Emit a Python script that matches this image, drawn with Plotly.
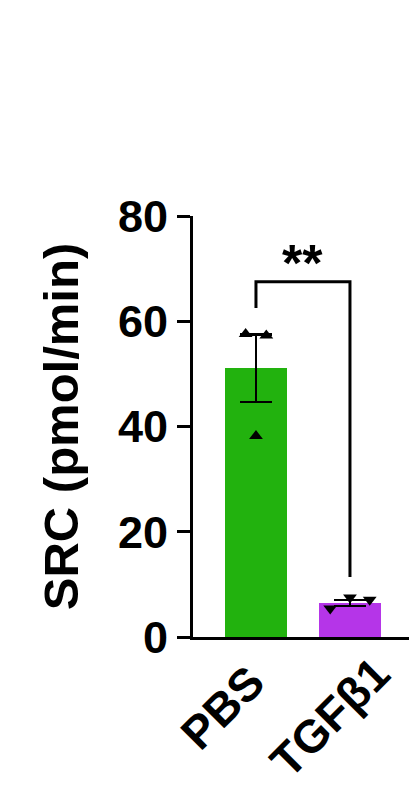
import plotly.graph_objects as go

# ---- data ----
categories = ["PBS", "TGFβ1"]
bar_means = [51.1, 6.5]
bar_sem = [6.4, 0.6]
pbs_points = [57.6, 57.3, 38.2]
tgf_points = [5.4, 7.5, 7.1]
point_jitter_pbs = [-0.11, 0.11, 0.0]
point_jitter_tgf = [-0.21, 0.0, 0.21]
y_ticks = [0, 20, 40, 60, 80]
sig_label = "**"
bracket_top = 67.5
bracket_left_end = 62.5
bracket_right_end = 11.4

# label offsets (px) of each rotated category label centre from its tick
label_xshift = [-33, -20]
label_yshift = [-70, -80]

bar_colors = ["#22B20E", "#B535E8"]
FONT = "Liberation Sans, Arial, sans-serif"

xpos = list(range(len(categories)))

fig = go.Figure()
fig.add_trace(go.Bar(
    x=xpos, y=bar_means, width=0.66,
    marker=dict(color=bar_colors, line=dict(width=0)),
    error_y=dict(type="data", array=bar_sem, visible=True,
                 color="black", thickness=2.2, width=16),
    showlegend=False,
))
fig.add_trace(go.Scatter(
    x=[xpos[0] + j for j in point_jitter_pbs], y=pbs_points,
    mode="markers",
    marker=dict(symbol="triangle-up", size=12, color="black"),
    showlegend=False,
))
fig.add_trace(go.Scatter(
    x=[xpos[1] + j for j in point_jitter_tgf], y=tgf_points,
    mode="markers",
    marker=dict(symbol="triangle-down", size=12, color="black"),
    showlegend=False,
))

# significance bracket
fig.add_shape(type="path",
              path=f"M {xpos[0]},{bracket_left_end} L {xpos[0]},{bracket_top} "
                   f"L {xpos[1]},{bracket_top} L {xpos[1]},{bracket_right_end}",
              xref="x", yref="y", line=dict(color="black", width=3))
fig.add_annotation(x=(xpos[0] + xpos[1]) / 2, y=bracket_top, text=sig_label,
                   showarrow=False, xref="x", yref="y", yanchor="bottom",
                   yshift=-12,
                   font=dict(family=FONT, size=52, color="black", weight="bold"))

# rotated category labels
for xi, lab, dx, dy in zip(xpos, categories, label_xshift, label_yshift):
    fig.add_annotation(x=xi, y=0, xref="x", yref="paper", text=lab,
                       showarrow=False, textangle=-45,
                       xanchor="center", yanchor="middle",
                       xshift=dx, yshift=dy,
                       font=dict(family=FONT, size=46, color="black",
                                 weight="bold"))

# page body has an 8px default margin, so the figure is sized to fit after it
fig.update_layout(
    width=409, height=782,
    margin=dict(l=185, r=5, t=208, b=153, autoexpand=False),
    plot_bgcolor="white", paper_bgcolor="white",
    font=dict(family=FONT, color="black"),
    bargap=0,
)
fig.update_xaxes(
    range=[-0.67, 1.66], tickvals=xpos, ticktext=categories,
    showticklabels=False, showline=True, linecolor="black", linewidth=3,
    ticks="", showgrid=False, zeroline=False, automargin=False,
)
fig.update_yaxes(
    range=[0, 80], tickvals=y_ticks, showline=True, linecolor="black",
    linewidth=3, ticks="outside", ticklen=13, tickwidth=3, tickcolor="black",
    showgrid=False, zeroline=False, automargin=False,
    tickfont=dict(family=FONT, size=45, color="black", weight="bold"),
    title=dict(text="SRC (pmol/min)", standoff=24,
               font=dict(family=FONT, size=49, color="black", weight="bold")),
)

fig.write_html("out.html")
